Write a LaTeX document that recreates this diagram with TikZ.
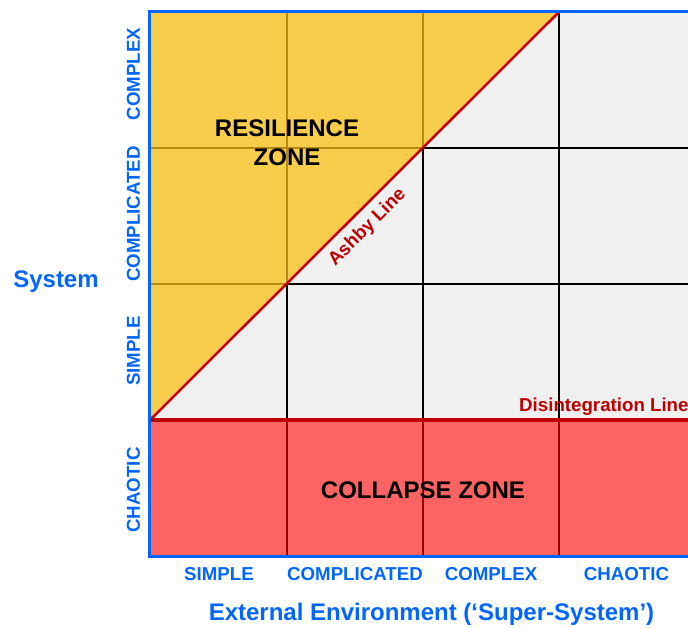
\documentclass[tikz,border=0pt]{standalone}
\usepackage{fontspec}
\setmainfont{Liberation Sans}
\definecolor{zoneyellow}{RGB}{249,205,76}
\definecolor{zonegray}{RGB}{240,240,240}
\definecolor{zonered}{RGB}{253,99,99}
\definecolor{darkred}{RGB}{192,0,0}
\definecolor{ashbyred}{RGB}{204,0,0}
\definecolor{golden}{RGB}{184,140,16}
\definecolor{axisblue}{RGB}{0,102,255}
\tikzset{
  big/.style={font=\fontsize{24}{29}\selectfont\bfseries, inner sep=0pt},
  small/.style={font=\fontsize{18.7}{22}\selectfont\bfseries, inner sep=0pt},
  bluetext/.style={text=axisblue},
  redtext/.style={text=darkred},
  gridline/.style={line width=1.4pt},
}
\begin{document}
\begin{tikzpicture}[x=1pt,y=-1pt]
\useasboundingbox (0,0) rectangle (688,627);
% corners
\coordinate (tl) at (150,12);
\coordinate (tr) at (688,12);
\coordinate (ml) at (150,420);
\coordinate (mr) at (688,420);
\coordinate (bl) at (150,556);
\coordinate (br) at (688,556);
\coordinate (apex) at (559,12);
% fills
\fill[zonegray] (tl) rectangle (mr);
\fill[zoneyellow] (tl) -- (apex) -- (ml) -- cycle;
\fill[zonered] (ml) rectangle (br);
% grid in gray region
\foreach \x in {287,423,559} \draw[gridline, black] (\x,12) -- (\x,420);
\foreach \y in {148,284} \draw[gridline, black] (150,\y) -- (688,\y);
% grid in yellow region
\begin{scope}
  \clip (tl) -- (apex) -- (ml) -- cycle;
  \foreach \x in {287,423,559} \draw[gridline, golden] (\x,12) -- (\x,420);
  \foreach \y in {148,284} \draw[gridline, golden] (150,\y) -- (688,\y);
\end{scope}
% grid in red region
\foreach \x in {287,423,559} \draw[gridline, darkred!80!black] (\x,420) -- (\x,556);
% Ashby line
\draw[ashbyred, line width=2.5pt] (ml) -- (apex);
% Disintegration line
\draw[darkred, line width=4pt] (ml) -- (mr);
% blue border
\draw[axisblue, line width=3pt] (688,11.5) -- (149.5,11.5) -- (149.5,556) -- (688,556);
% zone labels
\node[big, align=center] (res) at (287,143) {RESILIENCE\\ZONE};
\node[big] (col) at (423,490) {COLLAPSE ZONE};
\node[small, redtext, rotate=45] (ashby) at (367.5,227.5) {Ashby Line};
\node[small, redtext, anchor=base west] (dis) at (519,411) {Disintegration Line};
% axis titles
\node[big, bluetext, anchor=base] (sys) at (56,287) {System};
\node[big, bluetext, anchor=base] (ext) at (431.5,620) {External Environment (‘Super-System’)};
% bottom labels
\node[small, bluetext, anchor=base] (b1) at (219,580) {SIMPLE};
\node[small, bluetext, anchor=base] (b2) at (355,580) {COMPLICATED};
\node[small, bluetext, anchor=base] (b3) at (491,580) {COMPLEX};
\node[small, bluetext, anchor=base] (b4) at (626.5,580) {CHAOTIC};
% left labels
\node[small, bluetext, rotate=90] (l1) at (133.5,74) {COMPLEX};
\node[small, bluetext, rotate=90] (l2) at (133.5,214) {COMPLICATED};
\node[small, bluetext, rotate=90] (l3) at (133.5,351) {SIMPLE};
\node[small, bluetext, rotate=90] (l4) at (133.5,490) {CHAOTIC};
\end{tikzpicture}
\end{document}
